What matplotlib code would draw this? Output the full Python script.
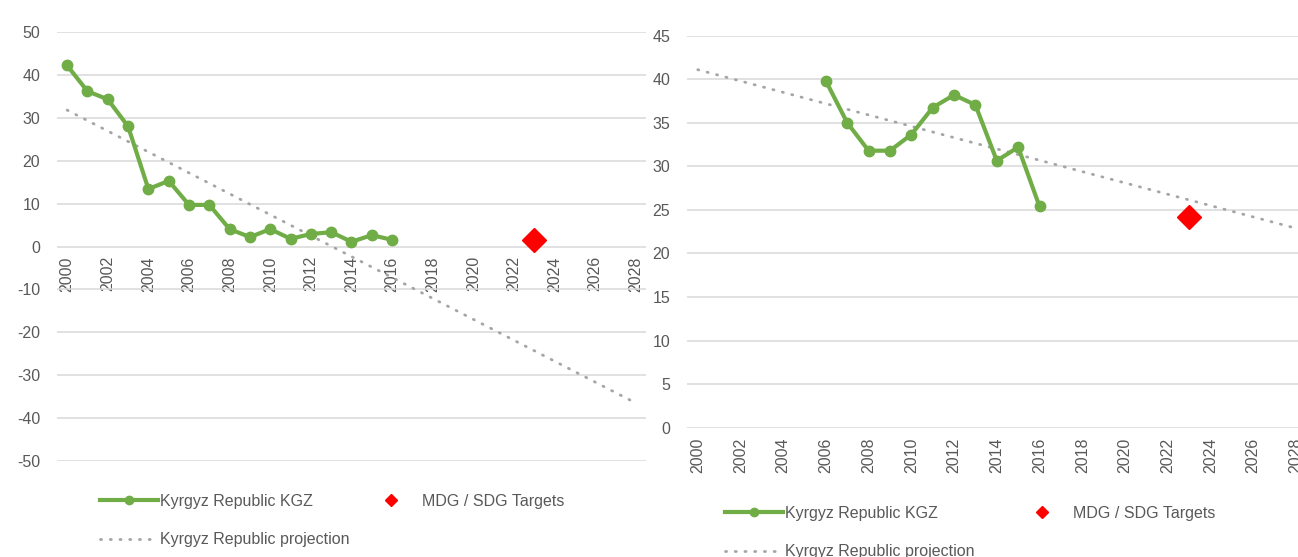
import matplotlib
matplotlib.use("Agg")
import matplotlib.pyplot as plt
from matplotlib.lines import Line2D
import numpy as np

plt.rcParams['font.family'] = ['Liberation Sans Narrow', 'Liberation Sans', 'DejaVu Sans']
plt.rcParams['axes.unicode_minus'] = False

# axis categories
years = list(range(2000, 2029))
tick_years = list(range(2000, 2029, 2))

# left chart
left_years = list(range(2000, 2017))
left_vals = [42.2, 36.2, 34.3, 28.0, 13.4, 15.3, 9.7, 9.7, 4.05, 2.2, 4.05, 1.8, 2.9, 3.35, 1.1, 2.65, 1.55]
left_proj_start, left_proj_end = 31.8, -36.5
left_target_year, left_target = 2023, 1.55

# right chart
right_years = list(range(2006, 2017))
right_vals = [39.8, 35.0, 31.8, 31.8, 33.65, 36.75, 38.2, 37.05, 30.65, 32.2, 25.4]
right_proj_start, right_proj_end = 41.1, 22.9
right_target_year, right_target = 2023, 24.2

green = '#70AD47'
grey_dot = '#A5A5A5'
txt = '#595959'
grid = '#D9D9D9'

fig = plt.figure(figsize=(12.98, 5.57), dpi=100)
axL = fig.add_axes([0.0439, 0.1724, 0.4538, 0.7701])
axR = fig.add_axes([0.5293, 0.2321, 0.4773, 0.7038])


def draw(ax, xs, vals, p0, p1, ty, tv, ylim, yticks, pad):
    # spine first, moving it resets the tick labels
    for s in ax.spines.values():
        s.set_visible(False)
    ax.spines['bottom'].set_position(('data', 0))
    proj = np.linspace(p0, p1, len(years))
    ax.plot(years, proj, color=grey_dot, lw=2.0, dashes=(0.4, 3.1),
            dash_capstyle='round', zorder=2)
    ax.plot(xs, vals, color=green, lw=3, marker='o', ms=7.5, zorder=3)
    ax.plot([ty], [tv], marker='D', color='#FF0000', ms=12, ls='none', zorder=4)
    ax.set_xlim(1999.5, 2028.5)
    ax.set_ylim(*ylim)
    ax.set_yticks(yticks)
    ax.set_xticks(tick_years)
    ax.set_xticklabels([str(y) for y in tick_years], rotation=90, va='top')
    ax.grid(axis='y', color=grid, lw=1.1)
    ax.set_axisbelow(True)
    ax.tick_params(axis='both', length=0, colors=txt, labelsize=11.5)
    ax.tick_params(axis='x', pad=pad)
    ax.tick_params(axis='y', pad=12)


draw(axL, left_years, left_vals, left_proj_start, left_proj_end,
     left_target_year, left_target, (-50, 50), range(-50, 51, 10), 7)
draw(axR, right_years, right_vals, right_proj_start, right_proj_end,
     right_target_year, right_target, (0, 45), range(0, 46, 5), 7)

handles = [
    Line2D([], [], color=green, lw=3, marker='o', ms=6),
    Line2D([], [], color=grey_dot, lw=2.0, dashes=(0.4, 3.1), dash_capstyle='round'),
    Line2D([], [], color='#FF0000', marker='D', ms=6, ls='none'),
]
labels = ['Kyrgyz Republic KGZ', 'Kyrgyz Republic projection', 'MDG / SDG Targets']

leg_kw = dict(ncol=2, loc='upper left', frameon=False, fontsize=11.5, labelcolor=txt,
              handlelength=3.6, handletextpad=0.15, labelspacing=1.45,
              borderpad=0, borderaxespad=0)
fig.legend(handles, labels, bbox_to_anchor=(100 / 1298, 1 - 494 / 557),
           columnspacing=0.78, **leg_kw)
fig.legend(handles, labels, bbox_to_anchor=(725 / 1298, 1 - 506 / 557),
           columnspacing=2.45, **leg_kw)

fig.savefig('out.png', dpi=100)
